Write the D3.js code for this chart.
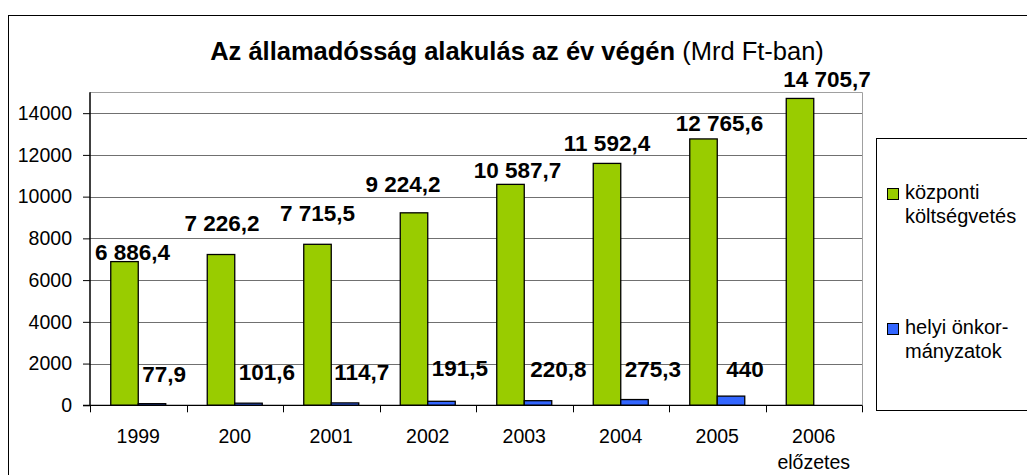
<!DOCTYPE html>
<html>
<head>
<meta charset="utf-8">
<script src="https://cdn.jsdelivr.net/npm/d3@7"></script>
<style>
  body { margin: 0; background: #fff; }
  svg { font-family: "Liberation Sans", Arial, sans-serif; }
</style>
</head>
<body>
<div id="chart"></div>
<script>
// data
var years = ["1999", "200", "2001", "2002", "2003", "2004", "2005", "2006\nelőzetes"]
var kozponti = [6886.4, 7226.2, 7715.5, 9224.2, 10587.7, 11592.4, 12765.6, 14705.7]
var helyi = [77.9, 101.6, 114.7, 191.5, 220.8, 275.3, 440, null]
var yTicks = [0, 2000, 4000, 6000, 8000, 10000, 12000, 14000]
var seriesNames = [["központi", "költségvetés"], ["helyi önkor-", "mányzatok"]]
var colors = ["#99cc00", "#3366ff"]

// hand placed data labels in the original, nudges relative to the bar top
var greenNudge = [[8, 2], [1, 24], [0, 23], [-11, 21], [7, 6], [0, 12], [16, 8], [27, 11]]
var blueNudge = [[4, 22], [4, 23], [3, 23], [4, 25], [6, 24], [4, 23], [9, 19]]

var width = 1027, height = 475
var plot = {left: 90, top: 92.3, right: 862, bottom: 405.3}

var svg = d3.select("#chart")
  .append("svg")
  .attr("width", width)
  .attr("height", height)

// outer frame (runs off the picture on the right and bottom)
svg.append("rect")
  .attr("x", 8.5).attr("y", 15.5)
  .attr("width", 1040).attr("height", 480)
  .attr("fill", "none").attr("stroke", "#000")

var x = d3.scaleBand()
  .domain(years)
  .range([plot.left, plot.right])

var sub = d3.scaleBand()
  .domain([0, 1])
  .range([0, 55])

var groupPad = (x.bandwidth() - 55) / 2

var y = d3.scaleLinear()
  .domain([0, 15000])
  .range([plot.bottom, plot.top])

// gridlines
svg.append("g")
  .selectAll("line")
  .data(yTicks.filter(function(d) { return d > 0 }))
  .enter().append("line")
    .attr("x1", plot.left).attr("x2", plot.right)
    .attr("y1", function(d) { return Math.round(y(d)) + 0.5 })
    .attr("y2", function(d) { return Math.round(y(d)) + 0.5 })
    .attr("stroke", "#707070")

// plot area border top and right
svg.append("path")
  .attr("d", "M" + plot.left + "," + (Math.round(plot.top) + 0.5) + "H" + (plot.right + 0.5) + "V" + plot.bottom)
  .attr("fill", "none")
  .attr("stroke", "#a0a0a0")

var fmt = d3.formatLocale({decimal: ",", thousands: "\u00a0", grouping: [3], currency: ["", ""]})
function label(v) {
  return Number.isInteger(v) ? String(v) : fmt.format(",.1f")(v)
}

// bars
var series = [kozponti, helyi]
series.forEach(function(vals, s) {
  svg.append("g")
    .selectAll("rect")
    .data(vals.map(function(v, i) { return {v: v, cat: years[i]} }).filter(function(d) { return d.v != null }))
    .enter().append("rect")
      .attr("x", function(d) { return x(d.cat) + groupPad + sub(s) })
      .attr("y", function(d) { return y(d.v) })
      .attr("width", sub.bandwidth())
      .attr("height", function(d) { return plot.bottom - y(d.v) })
      .attr("fill", colors[s])
      .attr("stroke", "#000")
      .attr("stroke-width", 1.3)
})

// y axis
var yAxis = svg.append("g")
  .attr("transform", "translate(" + plot.left + ",0)")
  .call(d3.axisLeft(y).tickValues(yTicks).tickSize(7).tickPadding(11).tickFormat(d3.format("d")))
yAxis.select(".domain").attr("d", "M0," + plot.top + "V" + plot.bottom).attr("stroke", "#000").attr("stroke-width", 1.5)
yAxis.selectAll(".tick line").attr("stroke", "#000")
yAxis.selectAll("text").attr("font-size", 19.5).attr("fill", "#000")
yAxis.attr("font-family", null)

// x axis
var xAxis = svg.append("g")
  .attr("transform", "translate(0," + plot.bottom + ")")
xAxis.append("line")
  .attr("x1", plot.left - 7).attr("x2", plot.right)
  .attr("stroke", "#000").attr("stroke-width", 1.3)
xAxis.selectAll(".sep")
  .data(years)
  .enter().append("line")
    .attr("class", "sep")
    .attr("x1", function(d) { return Math.round(x(d) + x.bandwidth()) + 0.5 })
    .attr("x2", function(d) { return Math.round(x(d) + x.bandwidth()) + 0.5 })
    .attr("y1", 0).attr("y2", 7)
    .attr("stroke", "#000")
xAxis.append("line")
  .attr("x1", plot.left + 0.5).attr("x2", plot.left + 0.5)
  .attr("y1", 0).attr("y2", 7)
  .attr("stroke", "#000")
var xl = xAxis.selectAll(".lbl")
  .data(years)
  .enter().append("text")
    .attr("class", "lbl")
    .attr("text-anchor", "middle")
    .attr("font-size", 19.5)
    .attr("transform", function(d) { return "translate(" + (x(d) + x.bandwidth() / 2) + ",38)" })
xl.selectAll("tspan")
  .data(function(d) { return d.split("\n") })
  .enter().append("tspan")
    .attr("x", 0)
    .attr("y", function(d, i) { return i * 26 })
    .text(function(d) { return d })

// data labels
svg.append("g")
  .selectAll("text")
  .data(kozponti)
  .enter().append("text")
    .attr("text-anchor", "middle")
    .attr("font-size", 22.5)
    .attr("font-weight", "bold")
    .attr("x", function(d, i) { return x(years[i]) + groupPad + sub(0) + sub.bandwidth() / 2 + greenNudge[i][0] })
    .attr("y", function(d, i) { return y(d) - greenNudge[i][1] })
    .text(label)

svg.append("g")
  .selectAll("text")
  .data(helyi.filter(function(d) { return d != null }))
  .enter().append("text")
    .attr("text-anchor", "start")
    .attr("font-size", 22.5)
    .attr("font-weight", "bold")
    .attr("x", function(d, i) { return x(years[i]) + groupPad + sub(1) + blueNudge[i][0] })
    .attr("y", function(d, i) { return y(d) - blueNudge[i][1] })
    .text(label)

// title
var title = svg.append("text")
  .attr("x", 517)
  .attr("y", 59.5)
  .attr("text-anchor", "middle")
  .attr("font-size", 25.5)
title.append("tspan").attr("font-weight", "bold").text("Az államadósság alakulás az év végén ")
title.append("tspan").text("(Mrd Ft-ban)")

// legend
var legend = svg.append("g")
legend.append("rect")
  .attr("x", 876.5).attr("y", 138.5)
  .attr("width", 200).attr("height", 272)
  .attr("fill", "#fff").attr("stroke", "#000")
var legendY = [188, 323]
seriesNames.forEach(function(lines, s) {
  var g = legend.append("g").attr("transform", "translate(887," + legendY[s] + ")")
  g.append("rect")
    .attr("x", 0.5).attr("y", 0.5)
    .attr("width", 11).attr("height", 11)
    .attr("fill", colors[s]).attr("stroke", "#000")
  g.append("text")
    .attr("font-size", 20)
    .selectAll("tspan")
    .data(lines)
    .enter().append("tspan")
      .attr("x", 18)
      .attr("y", function(d, i) { return 10.5 + i * 24 })
      .text(function(d) { return d })
})
</script>
</body>
</html>
